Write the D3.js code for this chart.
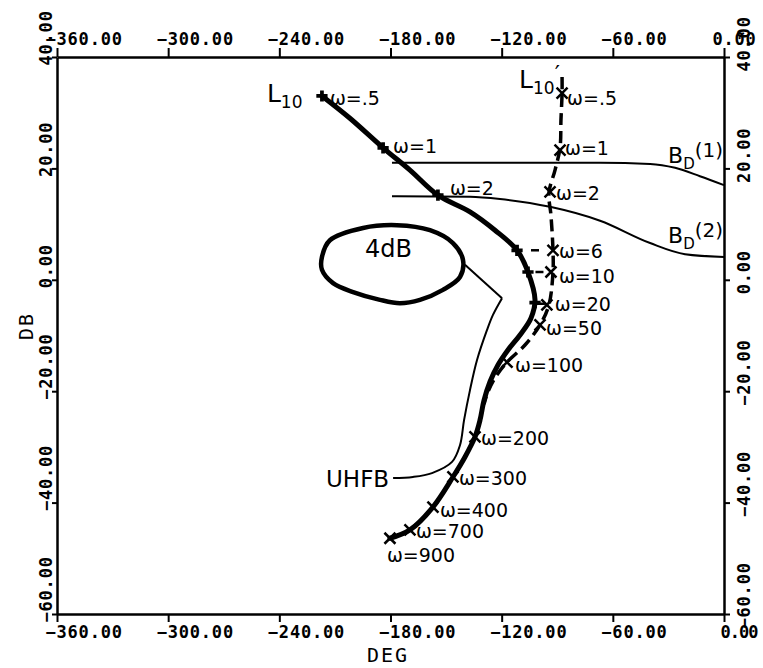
<!DOCTYPE html>
<html><head><meta charset="utf-8">
<script src="https://cdn.jsdelivr.net/npm/d3@7"></script>
<style>body{margin:0;background:#fff}</style>
</head><body><svg id="c" width="763" height="668"></svg>
<script>
// ---------- data ----------
const xTicks = [-360,-300,-240,-180,-120,-60,0];
const yTicks = [40,20,0,-20,-40,-60];

// L10 (thick solid)
const l10Deg = [-217.0,-201.9,-184.0,-169.5,-154.4,-137.1,-123.6,-111.7,-105.8,-102.0,-104.2,-110.1,-116.6,-122.0,-126.3,-129.5,-131.7,-134.4,-139.8,-146.3,-157.1,-169.5,-180.3];
const l10DB  = [33.0,29.0,23.7,19.7,15.2,12.2,8.9,5.3,1.4,-3.6,-6.9,-9.9,-12.6,-15.3,-18.3,-21.6,-25.2,-28.2,-31.8,-35.4,-40.8,-44.9,-46.4];
const l10MarkOmega = [".5","1","2","6","10","20"];
const l10MarkDeg = [-217.0,-184.0,-154.4,-111.7,-105.8,-102.0];
const l10MarkDB  = [33.0,23.7,15.2,5.3,1.4,-4.1];

// L10' (dashed, merges into L10 near -22 dB)
const l10pDeg = [-87.4,-87.4,-88.0,-88.5,-91.2,-94.5,-93.4,-92.3,-92.3,-94.5,-99.3,-107.4,-117.1,-123.6,-127.4,-129.5];
const l10pDB  = [36.4,33.5,28.7,23.7,19.7,15.6,11.6,5.3,1.4,-4.5,-8.1,-11.7,-14.8,-17.6,-20.1,-22.3];
const l10pMarkOmega = [".5","1","2","6","10","20","50","100","200","300","400","700","900"];
const l10pMarkDeg = [-87.4,-88.5,-93.9,-92.3,-93.4,-95.6,-99.3,-117.1,-134.4,-146.3,-157.1,-169.5,-180.3];
const l10pMarkDB  = [33.5,23.3,15.8,5.3,1.4,-4.5,-8.1,-14.8,-28.2,-35.4,-40.8,-44.9,-46.4];

// B_D(1), B_D(2)
const bd1Deg = [-179.2,-120.9,-66.9,-39.9,-26.4,-13.0,0];
const bd1DB  = [21.0,21.0,21.0,20.8,20.1,18.6,17.0];
const bd2Deg = [-179.2,-137.1,-120.9,-93.9,-66.9,-39.9,-21.0,0];
const bd2DB  = [15.0,14.9,14.5,13.1,10.6,6.6,4.6,4.1];

// 4 dB contour
const c4Deg = [-212.7,-194.8,-176.5,-158.7,-146.3,-140.9,-142.5,-151.7,-164.1,-174.9,-185.7,-200.2,-211.0,-217.0,-217.0];
const c4DB  = [7.1,9.3,9.8,8.9,6.6,3.6,0.5,-1.8,-3.6,-4.2,-3.6,-2.2,-0.6,1.8,4.1];

// UHFB
const uhDeg = [-139.8,-119.8,-124.7,-127.9,-133.3,-137.1,-140.3,-142.5,-146.8,-157.6,-167.9,-178.6];
const uhDB  = [2.7,-3.3,-6.3,-9.0,-14.4,-19.8,-25.2,-29.7,-32.7,-34.7,-35.4,-35.6];

// annotation anchors (data units)
const noteText = ["4dB","UHFB"];
const noteDeg = [-193.8,-214.8];
const noteDB  = [4.1,-37.2];

// ---------- drawing ----------
const svg = d3.select('#c');
const x = d3.scaleLinear().domain([-360,0]).range([57,724]);
const y = d3.scaleLinear().domain([-60,40]).range([614,57]);
const fmt = d3.format('.2f');
const axFont = "'DejaVu Sans Mono', monospace";
const lblFont = "'DejaVu Sans', sans-serif";

function styleAxis(g){
  g.attr('font-family', null).attr('font-size', null);
  g.select('.domain').attr('stroke','#000').attr('stroke-width',2.5);
  g.selectAll('.tick line').attr('stroke','#000').attr('stroke-width',2);
  g.selectAll('text').attr('fill','#000').style('font-family',axFont)
    .style('font-weight','bold').style('font-size','17px').style('letter-spacing','0.8px');
}
const gTop = svg.append('g').attr('transform',`translate(0,${y(40)})`)
  .call(d3.axisTop(x).tickValues(xTicks).tickFormat(fmt).tickSize(9).tickSizeOuter(0));
styleAxis(gTop);
gTop.selectAll('text').attr('y',-12).attr('dy',null).attr('text-anchor','start').attr('x',-12);

const gBot = svg.append('g').attr('transform',`translate(0,${y(-60)})`)
  .call(d3.axisBottom(x).tickValues(xTicks).tickFormat(fmt).tickSize(8).tickSizeOuter(0));
styleAxis(gBot);
gBot.selectAll('text').attr('y',24).attr('dy',null).attr('text-anchor','start')
  .attr('x',d=>d<0?-12:-4).style('letter-spacing',d=>d<0?'0.8px':'-1px');

const gLeft = svg.append('g').attr('transform',`translate(${x(-360)},0)`)
  .call(d3.axisLeft(y).tickValues(yTicks).tickFormat(fmt).tickSize(5).tickSizeOuter(0));
styleAxis(gLeft);
gLeft.selectAll('text').attr('x',null).attr('y',null).attr('dy',null).attr('text-anchor','start')
  .attr('transform','translate(-5,8) rotate(-90)');

const gRight = svg.append('g').attr('transform',`translate(${x(0)},0)`)
  .call(d3.axisRight(y).tickValues(yTicks).tickFormat(fmt).tickSize(6).tickSizeOuter(0));
styleAxis(gRight);
gRight.selectAll('text').attr('x',null).attr('y',null).attr('dy',null).attr('text-anchor','start')
  .attr('transform','translate(26,14) rotate(-90)');

// axis titles
svg.append('text').attr('x',367).attr('y',662).text('DEG')
  .style('font-family',axFont).style('font-size','20px').style('letter-spacing','2px');
svg.append('text').attr('transform','translate(33,340) rotate(-90)').text('DB')
  .style('font-family',axFont).style('font-size','20px').style('letter-spacing','2px');

const zip = (a,b)=>a.map((v,i)=>[v,b[i]]);
const line = d3.line().x(d=>x(d[0])).y(d=>y(d[1]));

// B_D lines
svg.append('path').attr('d', line.curve(d3.curveMonotoneX)(zip(bd1Deg,bd1DB)))
  .attr('fill','none').attr('stroke','#000').attr('stroke-width',2);
svg.append('path').attr('d', line.curve(d3.curveMonotoneX)(zip(bd2Deg,bd2DB)))
  .attr('fill','none').attr('stroke','#000').attr('stroke-width',2);

// 4 dB contour
svg.append('path').attr('d', line.curve(d3.curveCatmullRomClosed)(zip(c4Deg,c4DB)))
  .attr('fill','none').attr('stroke','#000').attr('stroke-width',4.5);

// UHFB: straight leg from contour, then smooth
const uh = zip(uhDeg,uhDB);
svg.append('path').attr('d', line.curve(d3.curveLinear)(uh.slice(0,2)))
  .attr('fill','none').attr('stroke','#000').attr('stroke-width',2);
svg.append('path').attr('d', line.curve(d3.curveCatmullRom)(uh.slice(1)))
  .attr('fill','none').attr('stroke','#000').attr('stroke-width',2);

// L10' dashed
svg.append('path').attr('d', line.curve(d3.curveCatmullRom)(zip(l10pDeg,l10pDB)))
  .attr('fill','none').attr('stroke','#000').attr('stroke-width',3.5)
  .attr('stroke-dasharray','12,6');

// L10 thick
svg.append('path').attr('d', line.curve(d3.curveCatmullRom)(zip(l10Deg,l10DB)))
  .attr('fill','none').attr('stroke','#000').attr('stroke-width',5).attr('stroke-linecap','round');

// short connectors between L10 and L10' at w = 6, 10, 20
['6','10','20'].forEach(w=>{
  const i = l10MarkOmega.indexOf(w), j = l10pMarkOmega.indexOf(w);
  const mx = (x(l10MarkDeg[i]) + x(l10pMarkDeg[j]))/2;
  const my = (y(l10MarkDB[i]) + y(l10pMarkDB[j]))/2;
  svg.append('line').attr('x1',mx-4).attr('x2',mx+4).attr('y1',my).attr('y2',my)
    .attr('stroke','#000').attr('stroke-width',2.5);
});

// markers
const plus = d3.symbol().type(d3.symbolCross).size(70);
l10MarkDeg.forEach((d,i)=>{
  svg.append('path').attr('d',plus())
    .attr('transform',`translate(${x(d)},${y(l10MarkDB[i])})`).attr('fill','#000');
});
l10pMarkDeg.forEach((d,i)=>{
  const cx = x(d), cy = y(l10pMarkDB[i]), s = 5.5;
  svg.append('path').attr('d',`M${cx-s},${cy-s}L${cx+s},${cy+s}M${cx-s},${cy+s}L${cx+s},${cy-s}`)
    .attr('stroke','#000').attr('stroke-width',2.5).attr('fill','none');
});

// omega labels
const lab = (px,py,t)=>svg.append('text').attr('x',px).attr('y',py).text(t)
  .style('font-family',lblFont).style('font-size','19px').attr('fill','#000');
const pOff = {".5":[5,12],"1":[5,5],"900":[-3,24],"10":[8,11],"20":[8,6],"50":[6,10],"100":[8,10],"400":[7,10]};
l10pMarkOmega.forEach((w,i)=>{
  const o = pOff[w] || [6,8];
  lab(x(l10pMarkDeg[i])+o[0], y(l10pMarkDB[i])+o[1], 'ω='+w);
});
const lOff = {".5":[8,9],"1":[10,5],"2":[12,0]};
['.5','1','2'].forEach(w=>{
  const i = l10MarkOmega.indexOf(w), o = lOff[w];
  lab(x(l10MarkDeg[i])+o[0], y(l10MarkDB[i])+o[1], 'ω='+w);
});

// curve names
function lname(deg, db, main, sub, tail, mainSize, subSize){
  const t = svg.append('text').attr('x',x(deg)).attr('y',y(db))
    .style('font-family',lblFont).attr('fill','#000');
  t.append('tspan').text(main).style('font-size',mainSize+'px');
  t.append('tspan').text(sub).attr('dy',6).style('font-size',subSize+'px');
  if (tail) t.append('tspan').text(tail).attr('dy',-12).style('font-size',(mainSize-2)+'px');
}
lname(-246.7, 31.9, 'L', '10', null, 25, 17);
lname(-110.6, 34.4, 'L', '10', '\u2032', 25, 17);
lname(-30.2, 21.0, 'B', 'D', '(1)', 22, 15);
lname(-30.2, 6.6, 'B', 'D', '(2)', 22, 15);

noteText.forEach((t,i)=>{
  svg.append('text').attr('x',x(noteDeg[i])).attr('y',y(noteDB[i])).text(t)
    .style('font-family',lblFont).style('font-size', i===0?'24px':'23px').attr('fill','#000');
});
</script>
</body></html>
